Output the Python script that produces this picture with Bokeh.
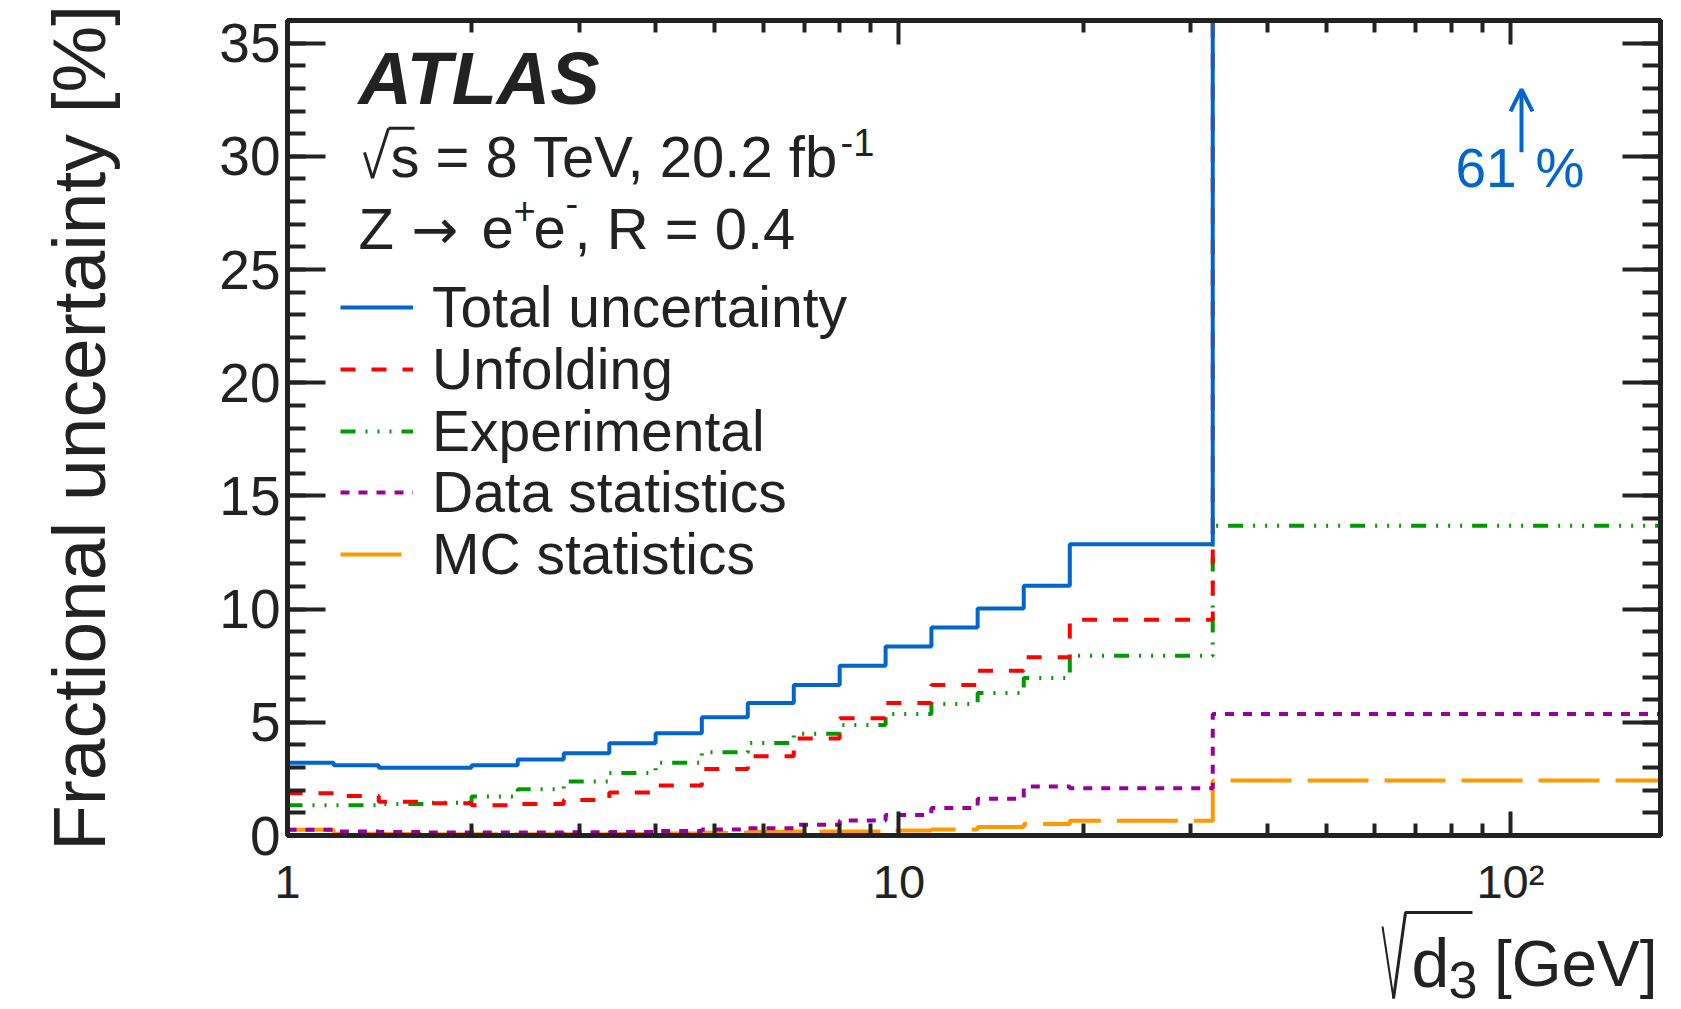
import numpy as np
from bokeh.plotting import figure
from bokeh.layouts import column
from bokeh.models import (LinearAxis, LogAxis, FixedTicker, SingleIntervalTicker, Range1d,
                          Legend, LegendItem, Label, Arrow, OpenHead)
from bokeh.embed import file_html
from bokeh.resources import INLINE

# ---- binning in sqrt(d3) [GeV] ----
bin_edges = [1.0, 1.19, 1.41, 1.68, 2.0, 2.38, 2.83, 3.36, 4.0, 4.76, 5.66, 6.73,
             8.0, 9.51, 11.3, 13.45, 16.0, 19.03, 32.6, 176.0]

# ---- fractional uncertainties per bin [%] ----
total_unc = [3.21, 3.10, 2.99, 2.99, 3.10, 3.36, 3.63, 4.07, 4.52, 5.22, 5.85, 6.65,
             7.50, 8.35, 9.19, 10.03, 11.03, 12.87, 61.0]
unfolding_unc = [1.87, 1.75, 1.49, 1.42, 1.34, 1.39, 1.57, 1.90, 2.21, 2.94, 3.50, 4.29,
                 5.18, 5.85, 6.65, 7.28, 7.87, 9.53, 59.1]
experimental_unc = [1.34, 1.34, 1.39, 1.45, 1.72, 2.04, 2.39, 2.76, 3.21, 3.68, 4.09, 4.49,
                    4.88, 5.37, 5.81, 6.29, 6.96, 7.94, 13.68]
data_stat_unc = [0.25, 0.18, 0.15, 0.13, 0.13, 0.13, 0.14, 0.16, 0.20, 0.26, 0.32, 0.47,
                 0.66, 0.91, 1.21, 1.62, 2.16, 2.09, 5.37]
mc_stat_unc = [0.25, 0.08, 0.07, 0.06, 0.06, 0.06, 0.06, 0.07, 0.09, 0.12, 0.15, 0.18,
               0.18, 0.22, 0.26, 0.37, 0.51, 0.65, 2.43]

series_labels = ["Total uncertainty", "Unfolding", "Experimental", "Data statistics", "MC statistics"]

x_tick_values = [1, 10, 100]
x_tick_labels = ["1", "10", "10\u00b2"]
x_minor_values = [2, 3, 4, 5, 6, 7, 8, 9, 20, 30, 40, 50, 60, 70, 80, 90]

# ---- layout ----
W, H = 1681, 1009
H_MAIN = 910                       # main panel; the x-axis title strip sits below it
FL, FR, FT, FB = 287, 1660, 20, 836
X_MIN, X_MAX = 1.0, 176.0
Y_MIN, Y_MAX = 0.0, 36.0

INK = "#222222"
FONT = "Liberation Sans"
BLUE, RED, GREEN, PURPLE, ORANGE = "#0066CC", "#FF0000", "#009900", "#990099", "#FF9900"
BASE_K = 0.36   # alphabetic anchor correction, in em


def dx(px):
    """pixel column -> data x on the log axis"""
    lo, hi = np.log10(X_MIN), np.log10(X_MAX)
    return float(10 ** (lo + (px - FL) / (FR - FL) * (hi - lo)))


def dy(py):
    """pixel row -> data y"""
    return float(Y_MIN + (FB - py) / (FB - FT) * (Y_MAX - Y_MIN))


p = figure(width=W, height=H_MAIN, x_axis_type="log",
           x_range=Range1d(X_MIN, X_MAX), y_range=Range1d(Y_MIN, Y_MAX),
           output_backend="svg", toolbar_location=None,
           min_border_left=FL, min_border_right=W - FR,
           min_border_top=FT, min_border_bottom=H_MAIN - FB)
p.xgrid.visible = False
p.ygrid.visible = False
p.outline_line_color = INK
p.outline_line_width = 5
p.background_fill_color = "white"
p.border_fill_color = "white"


def step(vals, color, dash):
    return p.step(x=bin_edges, y=list(vals) + [vals[-1]], mode="after",
                  line_color=color, line_width=4, line_dash=dash)


r_mc = step(mc_stat_unc, ORANGE, "61 16")
r_data = step(data_stat_unc, PURPLE, "9 9")
r_exp = step(experimental_unc, GREEN, "15 10 2 10 2 10 2 10")
r_unf = step(unfolding_unc, RED, "15 16")
r_tot = step(total_unc, BLUE, "solid")

# ---- axes ----
x_ticker = FixedTicker(ticks=x_tick_values, minor_ticks=x_minor_values)
y_ticker = SingleIntervalTicker(interval=5, num_minor_ticks=5)


def style_axis(ax, major_in, minor_in):
    ax.axis_line_color = INK
    ax.axis_line_width = 5
    ax.major_tick_line_color = INK
    ax.minor_tick_line_color = INK
    ax.major_tick_line_width = 4
    ax.minor_tick_line_width = 4
    ax.major_tick_out = 0
    ax.minor_tick_out = 0
    ax.major_tick_in = major_in
    ax.minor_tick_in = minor_in
    ax.major_label_text_font = FONT
    ax.major_label_text_color = INK


xb = p.xaxis[0]
xb.ticker = x_ticker
xb.major_label_overrides = dict(zip(x_tick_values, x_tick_labels))
style_axis(xb, 24, 12)
xb.major_label_text_font_size = "47px"
xb.major_label_standoff = 19

yl = p.yaxis[0]
yl.ticker = y_ticker
style_axis(yl, 38, 18)
yl.major_label_text_font_size = "55px"
yl.major_label_standoff = 7
yl.axis_label = "Fractional uncertainty [%]"
yl.axis_label_text_font = FONT
yl.axis_label_text_font_size = "75px"
yl.axis_label_text_font_style = "normal"
yl.axis_label_text_color = INK
yl.axis_label_standoff = 95

xt = LogAxis(ticker=x_ticker)
style_axis(xt, 24, 12)
xt.major_label_overrides = {v: "" for v in x_tick_values}
xt.major_label_text_color = None
p.add_layout(xt, "above")

yr = LinearAxis(ticker=y_ticker)
style_axis(yr, 38, 18)
yr.major_label_overrides = {v: "" for v in range(0, 40, 5)}
yr.major_label_text_color = None
p.add_layout(yr, "right")

# ---- legend: one entry per row, rows 62 px apart ----
ROW_H = 66
row_centers = [308 + 61.8 * k for k in range(5)]
for lab, r, c in zip(series_labels, [r_tot, r_unf, r_exp, r_data, r_mc], row_centers):
    p.add_layout(Legend(items=[LegendItem(label=lab, renderers=[r])],
                        location=(53, int(round(FB - (c + ROW_H / 2)))),
                        glyph_width=73, glyph_height=ROW_H, label_height=ROW_H,
                        label_standoff=19, spacing=0, padding=0, margin=0,
                        border_line_color=None, background_fill_alpha=0,
                        label_text_font=FONT, label_text_font_size="57px",
                        label_text_color=INK))


def text(fig, x, y, s, size, color=INK, style="normal", align="left", font=FONT):
    fig.add_layout(Label(x=x, y=y, text=s, text_font=font, text_font_size=f"{size}px",
                         text_font_style=style, text_color=color, text_align=align,
                         text_baseline="alphabetic"))


def ptext(px, py, s, size, **kw):
    """text in the main panel, placed by pixel position of its baseline"""
    text(p, dx(px), dy(py - BASE_K * size), s, size, **kw)


def pseg(p0, p1, width=3, color=INK):
    p.add_layout(Arrow(x_start=dx(p0[0]), y_start=dy(p0[1]), x_end=dx(p1[0]), y_end=dy(p1[1]),
                       start=None, end=None, line_color=color, line_width=width))


# experiment label
ptext(358, 105, "ATLAS", 74, style="bold italic")

# sqrt(s) line
pseg((364, 152), (372, 178), 3)
pseg((372, 178), (388, 128), 3)
pseg((388, 128), (414, 128), 3)
ptext(390, 177, "s = 8 TeV, 20.2 fb", 58)
ptext(840, 156, "-1", 38)

# channel line
ptext(358, 249, "Z", 58)
ptext(411, 249, "\u2192", 56, font="DejaVu Sans")
ptext(481, 249, "e", 58)
ptext(513, 224, "+", 38)
ptext(533, 249, "e", 58)
ptext(565, 217, "-", 38)
ptext(574, 249, ", R = 0.4", 58)

# off-scale marker for the last total-uncertainty bin
ptext(1455, 187, f"{total_unc[-1]:.0f}", 55, color=BLUE)
p.add_layout(Arrow(x_start=dx(1521), y_start=dy(152), x_end=dx(1521), y_end=dy(89),
                   line_color=BLUE, line_width=4,
                   end=OpenHead(size=22, line_color=BLUE, line_width=4)))
ptext(1535, 187, "%", 55, color=BLUE)

# ---- x-axis title strip: sqrt(d3) [GeV]; data units are page pixels ----
px_title = figure(width=W, height=H - H_MAIN, x_range=Range1d(FL, FR), y_range=Range1d(H, H_MAIN),
                  output_backend="svg", toolbar_location=None,
                  x_axis_location=None, y_axis_location=None,
                  min_border_left=FL, min_border_right=W - FR, min_border_top=0, min_border_bottom=0)
px_title.outline_line_color = None
px_title.grid.visible = False
px_title.line(x=[1382, 1393], y=[926, 998], line_color=INK, line_width=2)
px_title.line(x=[1393, 1405, 1472], y=[998, 912, 912], line_color=INK, line_width=3)
text(px_title, 1411, 987 - BASE_K * 68, "d", 68)
text(px_title, 1448, 998 - BASE_K * 52, "3", 52)
text(px_title, 1657, 987 - BASE_K * 64, "[GeV]", 64, align="right")

open("out.html", "w").write(file_html(column(p, px_title, spacing=0), INLINE))
